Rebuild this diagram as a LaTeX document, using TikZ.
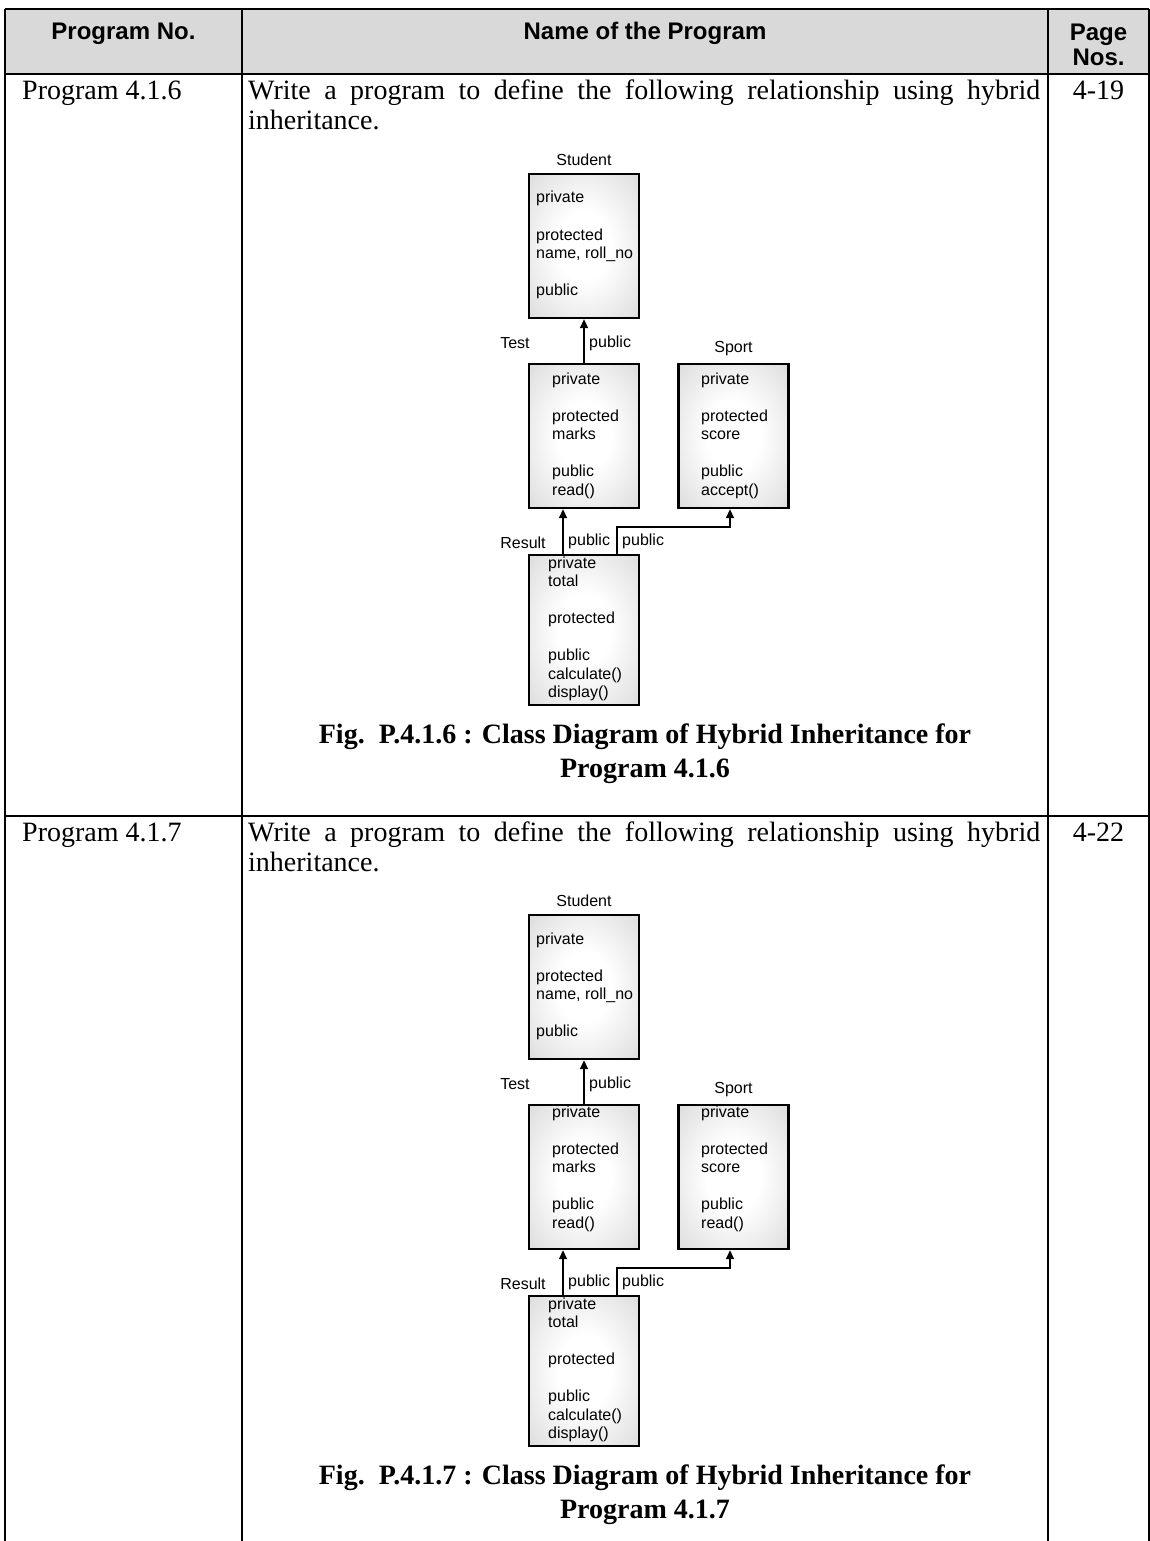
\documentclass[tikz,border=0pt]{standalone}
\usepackage{fontspec}
\setmainfont{Liberation Serif}
\setsansfont{Liberation Sans}
\usetikzlibrary{arrows.meta,positioning}
\definecolor{HeadGray}{HTML}{D9D9D9}
\definecolor{BoxMid}{HTML}{C8C8C8}
\definecolor{BoxEdge}{HTML}{B2B2B2}
\pgfdeclareradialshading{classshade}{\pgfpoint{0bp}{0bp}}{color(0bp)=(white); color(12bp)=(white); color(50bp)=(BoxMid); color(71bp)=(BoxEdge)}
\newcommand{\members}[1]{\begin{tabular}[t]{@{}l@{}}#1\end{tabular}}

\begin{document}
\begin{tikzpicture}[x=1pt,y=-1pt,>={Triangle[length=9pt,width=8pt]},
  rule/.style={line width=1.6pt},
  classbox/.style={draw,line width=2.4pt,inner sep=0pt,minimum width=110pt,minimum height=144pt,shading=classshade},
  members/.style={font=\fontsize{16}{18.5}\selectfont\sffamily,inner sep=0pt,anchor=base west},
  tag/.style={font=\fontsize{16}{18.5}\selectfont\sffamily,inner sep=0pt},
  inh/.style={->,line width=1.8pt},
  cell/.style={font=\fontsize{28}{31}\selectfont,inner sep=0pt,anchor=base west},
  head/.style={font=\fontsize{24}{24.5}\selectfont\sffamily\bfseries,inner sep=0pt,align=center},
  caption/.style={font=\fontsize{28}{34}\selectfont\bfseries,inner sep=0pt,anchor=base}]
  \useasboundingbox (0,0) rectangle (1150,1541);

  % table frame
  \fill[HeadGray] (5,9) rectangle (1149,74);
  \draw[rule] (5,9) -- (1149,9);
  \draw[rule] (5,74) -- (1149,74);
  \draw[rule] (5,816) -- (1149,816);
  \foreach \x in {5,242,1048,1149}
    \draw[rule] (\x,9) -- (\x,1541);

  \node[head,anchor=base] (hprog) at (123.5,40) {Program No.};
  \node[head,anchor=base] (hname) at (645,40) {Name of the Program};
  \node[head,anchor=north] (hpage) at (1098.5,24) {Page\\Nos.};

  % one row per program
  \foreach \r/\dy/\pno/\pg/\meth/\lift in {6/0/4.1.6/4-19/{accept()}/0,7/741/4.1.7/4-22/{read()}/8}{
  \begin{scope}[shift={(0,\dy)}]
    \node[cell] (prog\r) at (22,100) {Program \pno};
    \node[cell] (task\r) at (248,100) {\makebox[792pt][s]{Write a program to define the following relationship using hybrid}};
    \node[cell] (taskb\r) at (248,130) {inheritance.};
    \node[cell,anchor=base] (page\r) at (1098.5,100) {\pg};

    \node[classbox] (stu\r) at (584,246) {};
    \node[classbox] (test\r) at (584,436) {};
    \node[classbox] (spo\r) at (733.5,436) {};
    \node[classbox,minimum height=150pt] (res\r) at (584,630) {};

    \node[tag,above=7pt of stu\r] (stulab\r) {Student};
    \node[tag,above=7pt of spo\r] (spolab\r) {Sport};
    \node[tag] (testlab\r) at (515,343) {Test};
    \node[tag] (reslab\r) at (523,543) {Result};
    \node[tag,anchor=west] (puba\r) at (589,343) {public};
    \node[tag,anchor=west] (pubb\r) at (568,541) {public};
    \node[tag,anchor=west] (pubc\r) at (622,541) {public};

    \node[members] (stutxt\r) at (536,203) {\members{private\\ \\protected\\name, roll\_no\\ \\public}};
    \node[members] (testtxt\r) at (552,{384-\lift}) {\members{private\\ \\protected\\marks\\ \\public\\read()}};
    \node[members] (spotxt\r) at (701,{384-\lift}) {\members{private\\ \\protected\\score\\ \\public\\\meth}};
    \node[members] (restxt\r) at (548,568) {\members{private\\total\\ \\protected\\ \\public\\calculate()\\display()}};

    \draw[inh] (test\r) -- (stu\r);
    \draw[inh] ([xshift=-21pt]res\r.north) -- ([xshift=-21pt]res\r.north |- test\r.south);
    \draw[inh] ([xshift=33pt]res\r.north) -- ++(0,-27) -| ([xshift=-3.5pt]spo\r.south);

    \node[caption] (cap\r) at (645,743) {Fig.\ \ P.\pno\ : Class Diagram of Hybrid Inheritance for};
    \node[caption] (capb\r) at (645,777) {Program \pno};
  \end{scope}
  }
\end{tikzpicture}
\end{document}
